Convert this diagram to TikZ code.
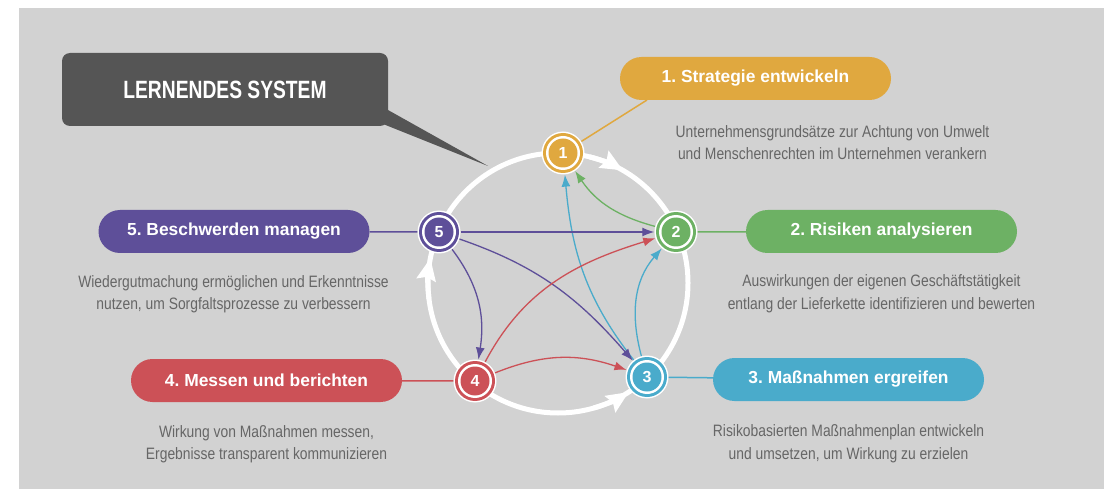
\documentclass[tikz,border=0pt]{standalone}
\usepackage{fontspec}
\setmainfont{Liberation Sans}
\newfontfamily\condfont[FakeStretch=0.84]{Liberation Sans}
\newfontfamily\titlefont[FakeStretch=0.77]{Liberation Sans}
\usetikzlibrary{arrows.meta,calc}
\frenchspacing
\definecolor{bgGray}{HTML}{D2D2D2}
\definecolor{darkBox}{HTML}{555555}
\definecolor{descGray}{HTML}{666666}
\definecolor{cOrange}{HTML}{E0A83F}
\definecolor{cGreen}{HTML}{6DB164}
\definecolor{cBlue}{HTML}{4AABCB}
\definecolor{cRed}{HTML}{CC5157}
\definecolor{cPurple}{HTML}{5E4F99}
\tikzset{
  stepnode/.style={circle, fill=white, minimum size=43pt, inner sep=0pt, text=white,
    font=\fontsize{16}{16}\selectfont\bfseries,
    path picture={
      \fill[#1] (path picture bounding box.center) circle (20pt);
      \fill[white] (path picture bounding box.center) circle (17pt);
      \fill[#1] (path picture bounding box.center) circle (14.5pt);
    }},
  pill/.style={fill=#1, rounded corners=21.5pt, minimum width=271pt, minimum height=43pt,
    inner sep=0pt, text=white, font=\fontsize{17.4}{20}\selectfont\bfseries},
  desc/.style={align=center, anchor=base, text=descGray, inner sep=0pt,
    font=\fontsize{16.5}{22.5}\selectfont\condfont},
  flow/.style={line width=1.3pt, -{Latex[length=12pt,width=9pt]}},
  link/.style={line width=1.5pt},
  ring/.style={white, line width=5pt},
  ringtip/.style={white, line width=5pt, -{Stealth[length=22pt,width=19pt,inset=3pt]}},
}
\begin{document}
\begin{tikzpicture}[x=1pt,y=1pt]
\useasboundingbox (0,0) rectangle (1106,-489);
\fill[white] (0,0) rectangle (1106,-489);
\fill[bgGray] (19,-8) rectangle (1104,-489);

% callout
\fill[darkBox] (388,-110) -- (488,-166) -- (383,-124) -- cycle;
\node[fill=darkBox, rounded corners=8pt, minimum width=326pt, minimum height=73pt,
  inner sep=0pt, text=white, font=\fontsize{25}{30}\selectfont\titlefont\bfseries]
  (title) at (225,-89.5) {LERNENDES SYSTEM};

% big ring
\coordinate (C) at (558,-283);
\draw[ring] (C) circle (130pt);
\draw[ringtip] ($(C)+(76:130)$) arc[start angle=76, end angle=60, radius=130pt];
\draw[ringtip] ($(C)+(187:130)$) arc[start angle=187, end angle=169, radius=130pt];
\draw[ringtip] ($(C)+(-74:130)$) arc[start angle=-74, end angle=-57, radius=130pt];

% step nodes
\node[stepnode=cOrange] (n1) at (563,-153) {1};
\node[stepnode=cGreen] (n2) at (676,-232) {2};
\node[stepnode=cBlue] (n3) at (647,-377) {3};
\node[stepnode=cRed] (n4) at (475,-381) {4};
\node[stepnode=cPurple] (n5) at (439,-232) {5};

% flows
\draw[flow, cGreen] (n2) to[out=165, in=-56] (n1);
\draw[flow, cBlue] (n3) to[out=128, in=-85] (n1);
\draw[flow, cBlue] (n3) to[out=105, in=-131] (n2);
\draw[flow, cPurple] (n5) -- (n2);
\draw[flow, cPurple] (n5) to[out=-19, in=131] (n3);
\draw[flow, cPurple] (n5) to[out=-53, in=81] (n4);
\draw[flow, cRed] (n4) to[out=62, in=-163] (n2);
\draw[flow, cRed] (n4) to[out=22, in=161] (n3);

% pills
\node[pill=cOrange] (p1) at (755.5,-78.5) {1. Strategie entwickeln};
\node[pill=cGreen] (p2) at (881.5,-231.5) {2. Risiken analysieren};
\node[pill=cBlue] (p3) at (848.5,-379.5) {3. Maßnahmen ergreifen};
\node[pill=cRed] (p4) at (266.5,-380.5) {4. Messen und berichten};
\node[pill=cPurple] (p5) at (234,-231.5) {5. Beschwerden managen};

% links
\coordinate (p1foot) at (647,-100);
\draw[link, cOrange] (n1) -- (p1foot);
\draw[link, cGreen] (n2) -- (p2);
\draw[link, cBlue] (n3) -- (p3);
\draw[link, cRed] (n4) -- (p4);
\draw[link, cPurple] (n5) -- (p5);

% descriptions (anchor = baseline of last line)
\node[desc] (d1) at (832.5,-160) {Unternehmensgrundsätze zur Achtung von Umwelt\\und Menschenrechten im Unternehmen verankern};
\node[desc] (d2) at (881.5,-309) {Auswirkungen der eigenen Geschäftstätigkeit\\entlang der Lieferkette identifizieren und bewerten};
\node[desc] (d3) at (848.5,-459) {Risikobasierten Maßnahmenplan entwickeln\\und umsetzen, um Wirkung zu erzielen};
\node[desc] (d4) at (266.5,-459.5) {Wirkung von Maßnahmen messen,\\Ergebnisse transparent kommunizieren};
\node[desc] (d5) at (233.5,-309.5) {Wiedergutmachung ermöglichen und Erkenntnisse\\nutzen, um Sorgfaltsprozesse zu verbessern};
\end{tikzpicture}
\end{document}
